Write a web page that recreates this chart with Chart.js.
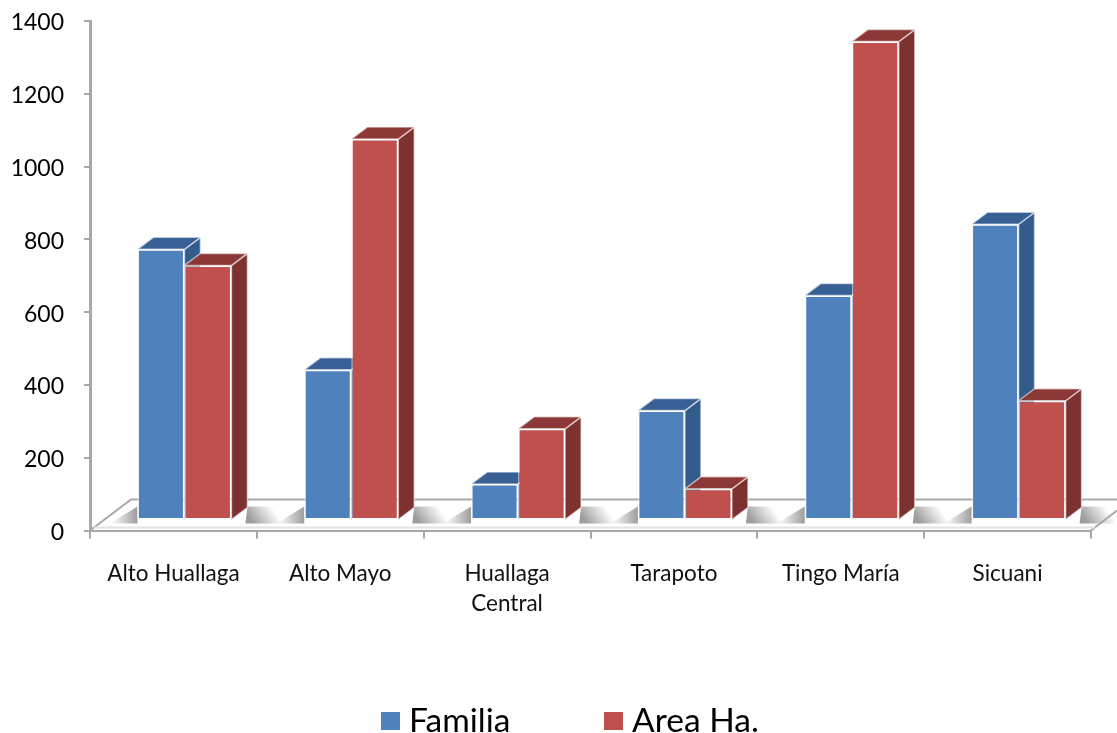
<!DOCTYPE html>
<html>
<head>
<meta charset="utf-8">
<title>Familia y Area</title>
<script src="https://cdn.jsdelivr.net/npm/chart.js@4"></script>
<style>
    html, body { margin: 0; padding: 0; background: #fff; overflow: hidden; }
    /* the reference is a slightly soft, scaled up picture */
    canvas { display: block; filter: blur(0.5px); }
</style>
</head>
<body>
<canvas id="barChart" width="1117" height="733"></canvas>
<script>
const categories = ['Alto Huallaga', 'Alto Mayo', ['Huallaga', 'Central'], 'Tarapoto', 'Tingo María', 'Sicuani'];
const familia = [745, 414, 100, 302, 618, 814];
const areaHa = [701, 1048, 252, 87, 1316, 329];

const FRONT = ['#4f81bd', '#c0504d'];
const SIDE = ['#335b8c', '#7d3230'];
const TOP = ['#386094', '#8c3836'];
const EDGE = 'rgba(255,255,255,0.55)';
const AXIS = '#a8a8a8';

// the bars stand a little inside the floor, and have a depth going back and right
const SHIFT_X = 11, SHIFT_Y = -10;
const DEPTH_X = 16, DEPTH_Y = -12;

function poly(ctx, pts, fill, stroke) {
    ctx.beginPath();
    pts.forEach((p, i) => i ? ctx.lineTo(p[0], p[1]) : ctx.moveTo(p[0], p[1]));
    ctx.closePath();
    ctx.fillStyle = fill;
    ctx.fill();
    if (stroke) {
        ctx.strokeStyle = stroke;
        ctx.lineWidth = 1.5;
        ctx.stroke();
    }
}

function shadow(ctx, pts, x0, y0, x1, y1) {
    const g = ctx.createLinearGradient(x0, y0, x1, y1);
    g.addColorStop(0, 'rgba(140,140,140,0.85)');
    g.addColorStop(1, 'rgba(140,140,140,0)');
    poly(ctx, pts, g);
}

function drawFloor(ctx, chart) {
    const area = chart.chartArea;
    const left = area.left, right = area.right, y0 = chart.scales.y.getPixelForValue(0);
    const w = chart.width;

    // soft shadows around the foot of each pair of bars
    chart.getDatasetMeta(0).data.forEach((bar, i) => {
        const red = chart.getDatasetMeta(1).data[i];
        const a = bar.x - bar.width / 2 + SHIFT_X;
        const b = red.x + red.width / 2 + SHIFT_X + DEPTH_X;
        shadow(ctx, [[a, y0 - 24], [a, y0 - 7], [a - 28, y0 - 7]], a, y0 - 14, a - 26, y0 - 14);
        shadow(ctx, [[b - 2, y0 - 7], [b, y0 - 24], [b + 24, y0 - 24], [b + 35, y0 - 7]], b, y0 - 15, b + 21, y0 - 29);
    });

    ctx.strokeStyle = AXIS;
    ctx.lineWidth = 2;
    ctx.beginPath();
    ctx.moveTo(left, y0);
    ctx.lineTo(left + 41, y0 - 31);
    ctx.lineTo(w, y0 - 31);
    ctx.moveTo(right, y0);
    ctx.lineTo(w, y0 - 20);
    ctx.stroke();

    ctx.strokeStyle = '#e4e4e4';
    ctx.lineWidth = 2;
    ctx.beginPath();
    ctx.moveTo(left + 4, y0 - 3);
    ctx.lineTo(right + 4, y0 - 3);
    ctx.stroke();
}

const bars3d = {
    id: 'bars3d',
    afterLayout(chart) {
        // legend row sits right of the page centre and closer to the axis labels
        chart.legend.left += 28;
        chart.legend.right += 28;
        chart.legend.top -= 19;
        chart.legend.bottom -= 19;
    },
    beforeDatasetsDraw(chart) {
        const ctx = chart.ctx;
        ctx.save();
        drawFloor(ctx, chart);
        ctx.translate(SHIFT_X, SHIFT_Y);
        // Familia first, so that the red bar hides the blue side face
        chart.data.datasets.forEach((ds, d) => {
            const meta = chart.getDatasetMeta(d);
            meta.data.forEach(bar => {
                const l = bar.x - bar.width / 2, r = bar.x + bar.width / 2;
                poly(ctx, [[r, bar.base], [r + DEPTH_X, bar.base + DEPTH_Y], [r + DEPTH_X, bar.y + DEPTH_Y], [r, bar.y]], SIDE[d], EDGE);
                poly(ctx, [[l, bar.y], [l + DEPTH_X, bar.y + DEPTH_Y], [r + DEPTH_X, bar.y + DEPTH_Y], [r, bar.y]], TOP[d], EDGE);
            });
            meta.controller.draw();
        });
        ctx.restore();
        return false;
    }
};

// legend swatch: a small canvas, so the gap to the text can be tighter than the default
function swatch(color) {
    const c = document.createElement('canvas');
    c.width = 19;
    c.height = 18;
    const g = c.getContext('2d');
    g.fillStyle = color;
    g.fillRect(0, 0, 19, 18);
    return c;
}
const swatches = FRONT.map(swatch);

new Chart(document.getElementById('barChart').getContext('2d'), {
    type: 'bar',
    data: {
        labels: categories,
        datasets: [
            { label: 'Familia', data: familia, backgroundColor: FRONT[0] },
            { label: 'Area Ha.', data: areaHa, backgroundColor: FRONT[1] }
        ]
    },
    options: {
        responsive: false,
        animation: false,
        layout: { padding: { left: 0, right: 26, top: 21, bottom: -34 } },
        datasets: {
            bar: {
                categoryPercentage: 0.5636,
                barPercentage: 1,
                borderWidth: 1.5,
                borderColor: EDGE,
                borderSkipped: false
            }
        },
        plugins: {
            tooltip: { enabled: false },
            legend: {
                position: 'bottom',
                labels: {
                    color: '#000',
                    font: { family: 'Lato', size: 33.5 },
                    usePointStyle: true,
                    boxWidth: 4,
                    boxHeight: 18,
                    padding: 101,
                    generateLabels(chart) {
                        const items = Chart.defaults.plugins.legend.labels.generateLabels(chart);
                        items.forEach((it, i) => { it.pointStyle = swatches[i]; });
                        return items;
                    }
                }
            }
        },
        scales: {
            x: {
                afterFit(scale) { scale.height = 92; },
                border: { color: AXIS, width: 2 },
                grid: { drawOnChartArea: false, color: AXIS, lineWidth: 2, tickLength: 8 },
                ticks: {
                    color: '#111',
                    font: { family: 'Lato', size: 22.5, lineHeight: 1.34 },
                    padding: 20,
                    maxRotation: 0,
                    autoSkip: false
                }
            },
            y: {
                min: 0,
                max: 1400,
                afterFit(scale) {
                    scale.width = 90;
                    scale.paddingTop = 0;
                    scale.paddingBottom = 0;
                },
                border: { color: AXIS, width: 3 },
                grid: { drawOnChartArea: false, color: AXIS, lineWidth: 2, tickLength: 6 },
                ticks: {
                    color: '#000',
                    font: { family: 'Lato', size: 23 },
                    padding: 20,
                    stepSize: 200,
                    labelOffset: 2,
                    callback: value => String(value)
                }
            }
        }
    },
    plugins: [bars3d]
});
</script>
</body>
</html>
